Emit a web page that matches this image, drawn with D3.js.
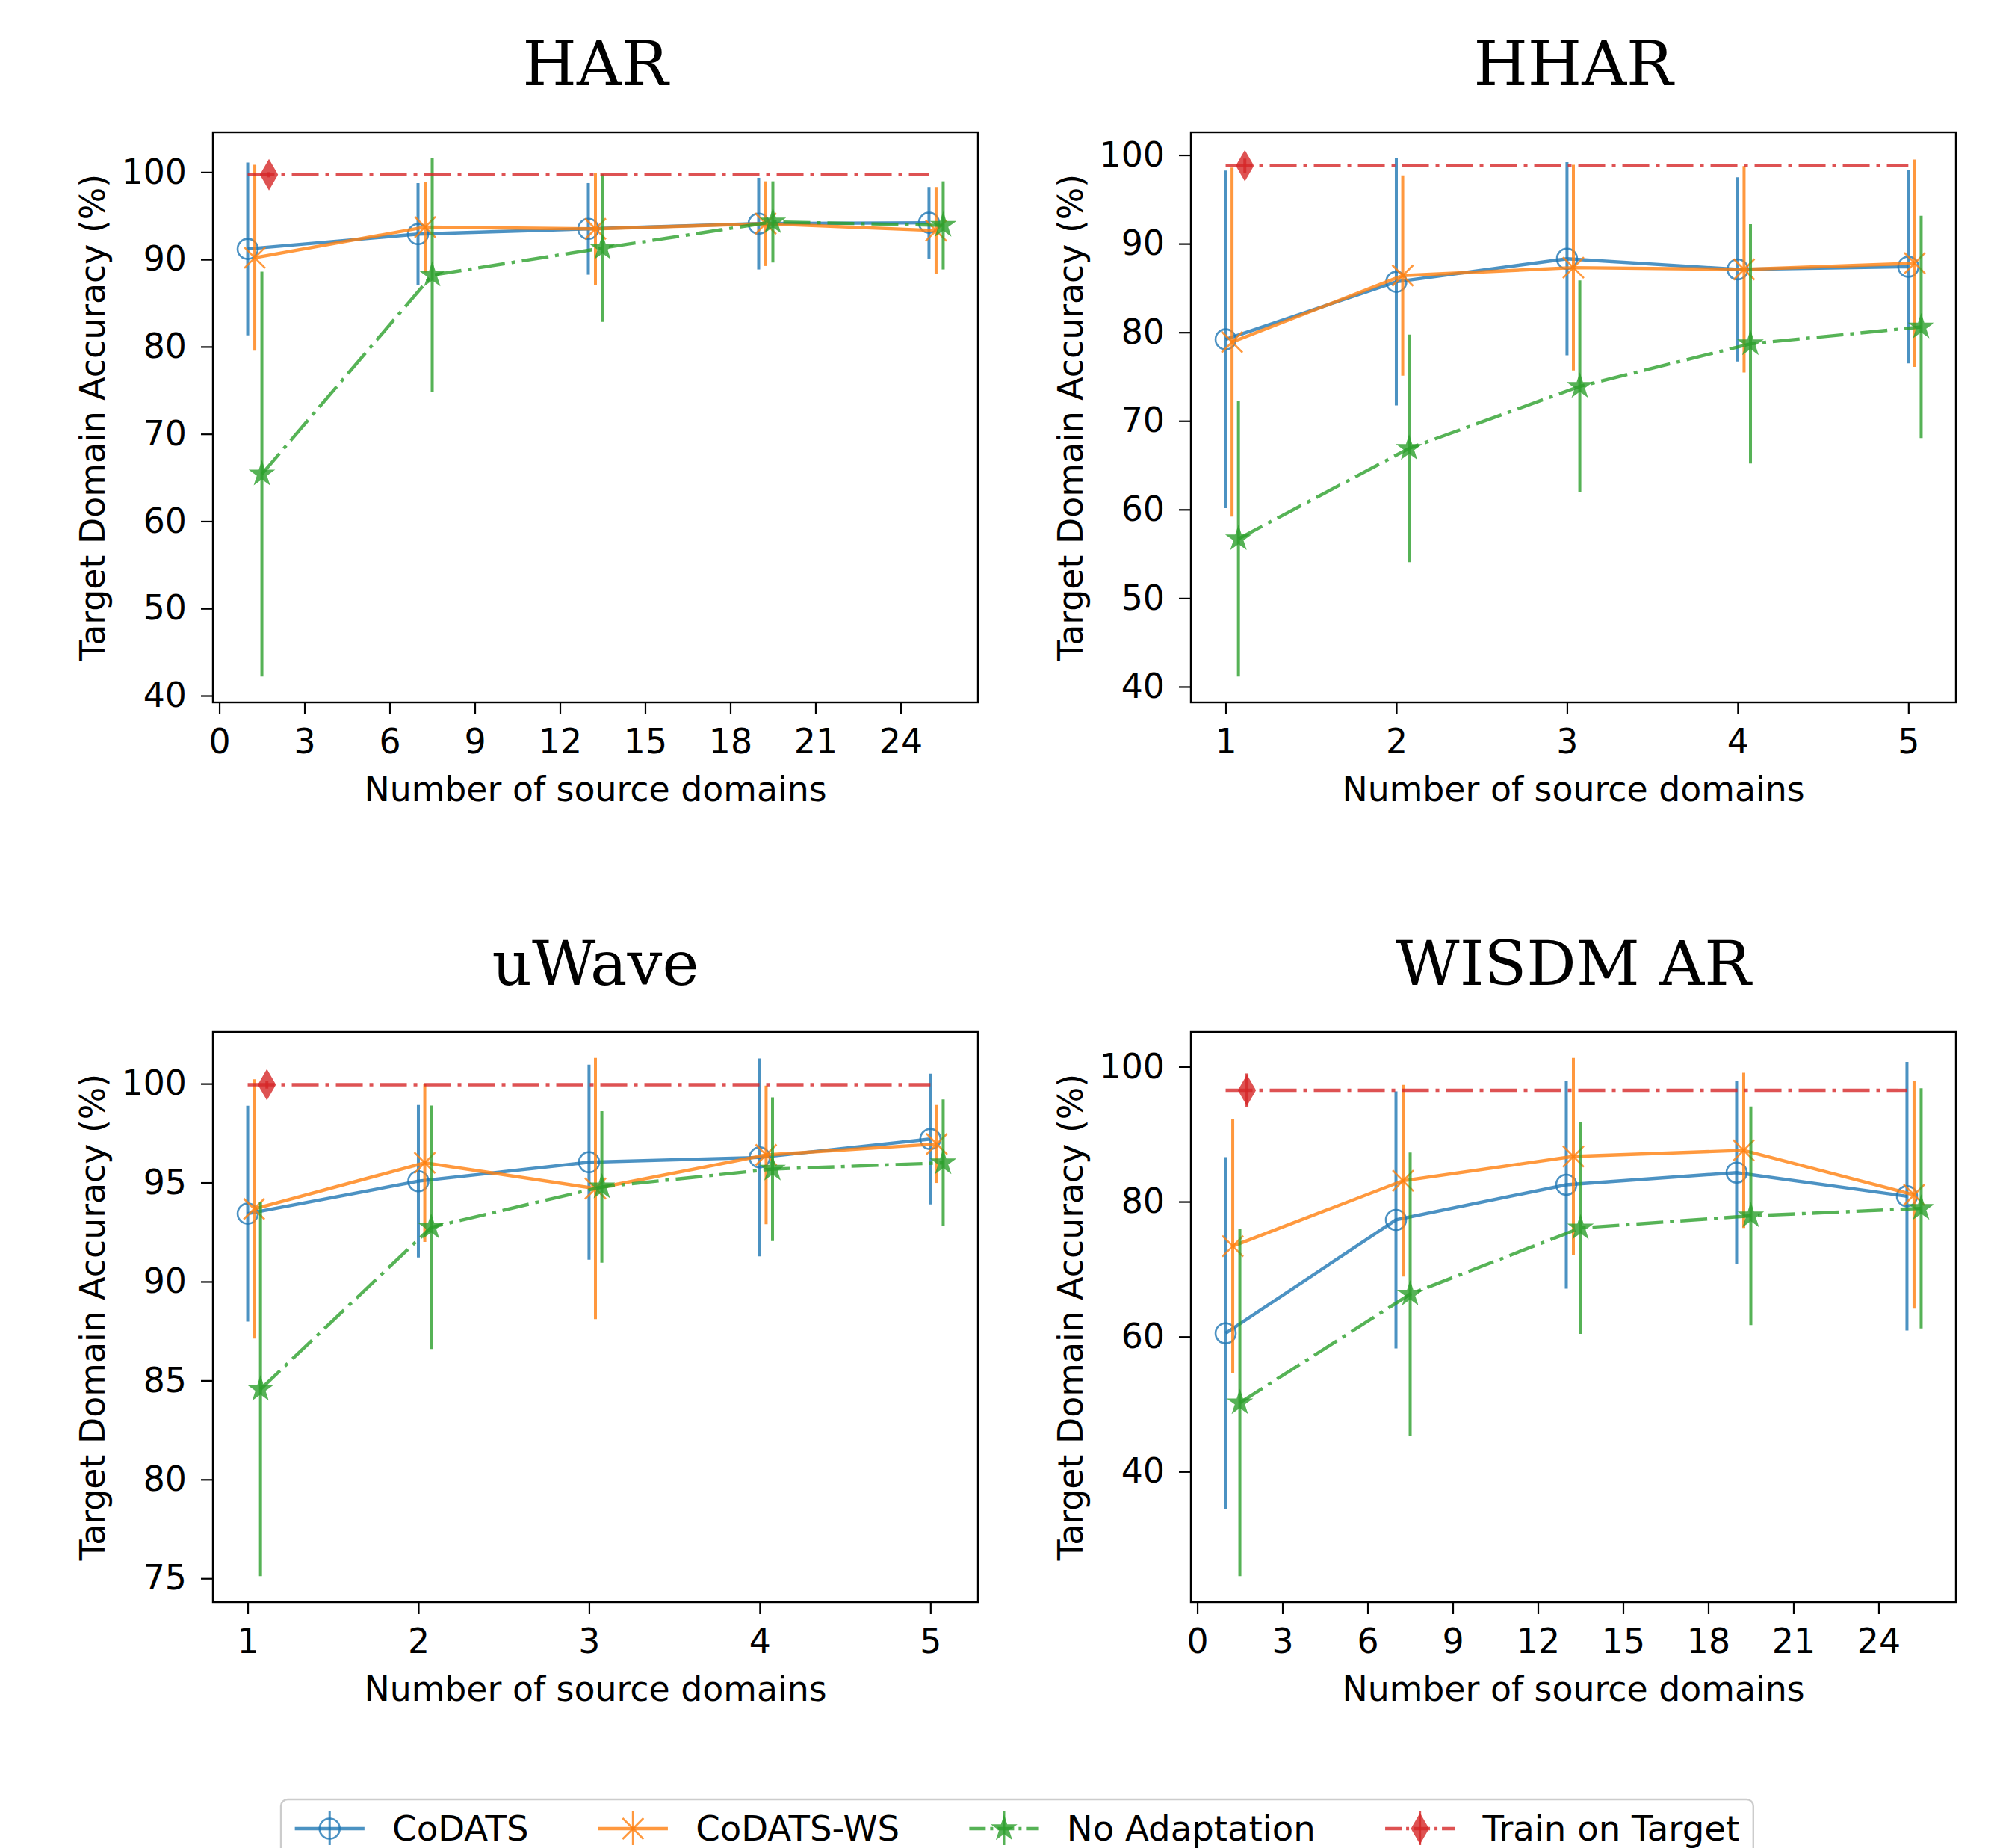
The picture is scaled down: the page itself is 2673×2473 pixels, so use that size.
<!DOCTYPE html>
<html>
<head>
<meta charset="utf-8">
<script src="https://cdn.jsdelivr.net/npm/d3@7"></script>
<style>
  html, body { margin: 0; padding: 0; background: #ffffff; }
  svg { display: block; }
</style>
</head>
<body>
<script>
// ---------------- DATA ----------------
const seriesNames = ["CoDATS", "CoDATS-WS", "No Adaptation", "Train on Target"];

const sourceDomainsMany = [1, 7, 13, 19, 25];
const sourceDomainsFew = [1, 2, 3, 4, 5];

const xTicksMany = [0, 3, 6, 9, 12, 15, 18, 21, 24];
const xTicksFew = [1, 2, 3, 4, 5];
const yTicksHAR = [40, 50, 60, 70, 80, 90, 100];
const yTicksHHAR = [40, 50, 60, 70, 80, 90, 100];
const yTicksUWave = [75, 80, 85, 90, 95, 100];
const yTicksWISDM = [40, 60, 80, 100];

// HAR
const harCodatsMean = [91.2, 92.9, 93.5, 94.1, 94.2];
const harCodatsStd = [9.9, 5.85, 5.25, 5.25, 4.1];
const harWsMean = [90.2, 93.7, 93.5, 94.1, 93.3];
const harWsStd = [10.65, 5.2, 6.4, 4.85, 5.0];
const harNoAdaptMean = [65.4, 88.2, 91.3, 94.3, 93.9];
const harNoAdaptStd = [23.2, 13.4, 8.45, 4.65, 5.05];
const harTargetMean = 99.7;
const harTargetStd = 0.3;

// HHAR
const hharCodatsMean = [79.2, 85.7, 88.3, 87.1, 87.4];
const hharCodatsStd = [19.05, 13.95, 10.9, 10.4, 10.9];
const hharWsMean = [78.9, 86.4, 87.3, 87.1, 87.8];
const hharWsStd = [19.7, 11.3, 11.6, 11.65, 11.7];
const hharNoAdaptMean = [56.7, 66.9, 73.9, 78.7, 80.6];
const hharNoAdaptStd = [15.55, 12.85, 11.95, 13.5, 12.55];
const hharTargetMean = 98.8;
const hharTargetStd = 0.8;

// uWave
const uwaveCodatsMean = [93.43, 95.07, 96.03, 96.27, 97.2];
const uwaveCodatsStd = [5.45, 3.85, 4.93, 5.0, 3.3];
const uwaveWsMean = [93.67, 96.0, 94.7, 96.4, 96.95];
const uwaveWsStd = [6.55, 4.0, 6.6, 3.5, 1.97];
const uwaveNoAdaptMean = [84.56, 92.74, 94.78, 95.68, 96.0];
const uwaveNoAdaptStd = [9.45, 6.15, 3.83, 3.63, 3.2];
const uwaveTargetMean = 99.95;
const uwaveTargetStd = 0.2;

// WISDM AR
const wisdmCodatsMean = [60.5, 77.3, 82.5, 84.3, 80.8];
const wisdmCodatsStd = [26.1, 19.05, 15.4, 13.6, 19.9];
const wisdmWsMean = [73.4, 83.1, 86.7, 87.6, 81.0];
const wisdmWsStd = [18.85, 14.2, 14.6, 11.5, 16.85];
const wisdmNoAdaptMean = [50.2, 66.3, 76.1, 77.9, 79.0];
const wisdmNoAdaptStd = [25.7, 21.0, 15.7, 16.2, 17.8];
const wisdmTargetMean = 96.5;
const wisdmTargetStd = 2.5;

// ---------------- STYLE / LAYOUT ----------------
const colors = ["#1f77b4", "#ff7f0e", "#2ca02c", "#d62728"];
const markers = ["circle", "x", "star", "thin_diamond"];
const dashes = [null, null, "36,9,5,9", "36,9,5,9"];
const seriesAlpha = 0.8;

const W = 2673, H = 2473;
const plotW = 1024, plotH = 763;
const colX = [285, 1594];
const rowY = [177, 1381];
const tickFont = 45.8;
const legendFont = 46.6;
const titleFont = 83;

const panels = [
  { title: "HAR", col: 0, row: 0, xs: sourceDomainsMany, dodge: 0.25, xTicks: xTicksMany, yTicks: yTicksHAR,
    means: [harCodatsMean, harWsMean, harNoAdaptMean], stds: [harCodatsStd, harWsStd, harNoAdaptStd],
    target: harTargetMean, targetStd: harTargetStd },
  { title: "HHAR", col: 1, row: 0, xs: sourceDomainsFew, dodge: 0.0375, xTicks: xTicksFew, yTicks: yTicksHHAR,
    means: [hharCodatsMean, hharWsMean, hharNoAdaptMean], stds: [hharCodatsStd, hharWsStd, hharNoAdaptStd],
    target: hharTargetMean, targetStd: hharTargetStd },
  { title: "uWave", col: 0, row: 1, xs: sourceDomainsFew, dodge: 0.0375, xTicks: xTicksFew, yTicks: yTicksUWave,
    means: [uwaveCodatsMean, uwaveWsMean, uwaveNoAdaptMean], stds: [uwaveCodatsStd, uwaveWsStd, uwaveNoAdaptStd],
    target: uwaveTargetMean, targetStd: uwaveTargetStd },
  { title: "WISDM AR", col: 1, row: 1, xs: sourceDomainsMany, dodge: 0.25, xTicks: xTicksMany, yTicks: yTicksWISDM,
    means: [wisdmCodatsMean, wisdmWsMean, wisdmNoAdaptMean], stds: [wisdmCodatsStd, wisdmWsStd, wisdmNoAdaptStd],
    target: wisdmTargetMean, targetStd: wisdmTargetStd }
];

// ---------------- DRAW ----------------
const svg = d3.select("body").append("svg")
  .attr("width", W).attr("height", H)
  .attr("viewBox", `0 0 ${W} ${H}`)
  .style("font-family", "'DejaVu Sans', sans-serif");

svg.append("rect").attr("width", W).attr("height", H).attr("fill", "#ffffff");

function starPath(R) {
  const r = R * 0.381966;
  const pts = [];
  for (let k = 0; k < 10; k++) {
    const a = -Math.PI / 2 + k * Math.PI / 5;
    const rr = k % 2 === 0 ? R : r;
    pts.push([rr * Math.cos(a), rr * Math.sin(a)]);
  }
  return "M" + pts.map(p => p[0].toFixed(2) + "," + p[1].toFixed(2)).join("L") + "Z";
}

function drawMarker(g, type, color, cx, cy) {
  const m = g.append("g").attr("transform", `translate(${cx},${cy})`).attr("opacity", seriesAlpha);
  if (type === "circle") {
    m.append("circle").attr("r", 13.5).attr("fill", "none").attr("stroke", color).attr("stroke-width", 2.6);
  } else if (type === "x") {
    m.append("path").attr("d", "M-14,-14L14,14M-14,14L14,-14")
      .attr("stroke", color).attr("stroke-width", 2.6).attr("fill", "none");
  } else if (type === "star") {
    m.append("path").attr("d", starPath(15.5)).attr("fill", color).attr("stroke", color)
      .attr("stroke-width", 2).attr("stroke-linejoin", "miter");
  } else if (type === "thin_diamond") {
    m.append("path").attr("d", "M0,-19L11,0L0,19L-11,0Z").attr("fill", color)
      .attr("stroke", color).attr("stroke-width", 2);
  }
}

function withMargin(lo, hi) {
  const r = hi - lo;
  return [lo - 0.05 * r, hi + 0.05 * r];
}

panels.forEach(p => {
  const x0 = colX[p.col], y0 = rowY[p.row];
  const g = svg.append("g").attr("transform", `translate(${x0},${y0})`);

  // data extents
  const n = p.xs.length;
  const allX = [p.xs[0], p.xs[n - 1], p.xs[0] + 3 * p.dodge];
  p.means.forEach((_, k) => p.xs.forEach(v => allX.push(v + k * p.dodge)));
  const allY = [p.target - p.targetStd, p.target + p.targetStd];
  p.means.forEach((arr, k) => arr.forEach((v, i) => {
    allY.push(v - p.stds[k][i]);
    allY.push(v + p.stds[k][i]);
  }));

  const x = d3.scaleLinear().domain(withMargin(d3.min(allX), d3.max(allX))).range([0, plotW]);
  const y = d3.scaleLinear().domain(withMargin(d3.min(allY), d3.max(allY))).range([plotH, 0]);

  // title
  svg.append("text")
    .attr("x", x0 + plotW / 2).attr("y", y0 - 63)
    .attr("text-anchor", "middle")
    .style("font-family", "'DejaVu Serif', serif")
    .style("font-size", titleFont + "px")
    .attr("fill", "#000")
    .text(p.title);

  // plotting area clip
  const clipId = "clip-" + p.col + "-" + p.row;
  g.append("clipPath").attr("id", clipId).append("rect").attr("width", plotW).attr("height", plotH);
  const plot = g.append("g").attr("clip-path", `url(#${clipId})`);

  const line = d3.line().x(d => x(d[0])).y(d => y(d[1]));

  // three series with error bars
  p.means.forEach((arr, k) => {
    const pts = arr.map((v, i) => [p.xs[i] + k * p.dodge, v, p.stds[k][i]]);
    const sg = plot.append("g");
    // error bars
    pts.forEach(d => {
      sg.append("line")
        .attr("x1", x(d[0])).attr("x2", x(d[0]))
        .attr("y1", y(d[1] - d[2])).attr("y2", y(d[1] + d[2]))
        .attr("stroke", colors[k]).attr("stroke-width", 4).attr("opacity", seriesAlpha);
    });
    // line
    const path = sg.append("path")
      .attr("d", line(pts))
      .attr("fill", "none")
      .attr("stroke", colors[k]).attr("stroke-width", 4.4)
      .attr("opacity", seriesAlpha);
    if (dashes[k]) path.attr("stroke-dasharray", dashes[k]);
    // markers
    pts.forEach(d => drawMarker(sg, markers[k], colors[k], x(d[0]), y(d[1])));
  });

  // Train on Target
  const tg = plot.append("g");
  tg.append("path")
    .attr("d", line([[p.xs[0], p.target], [p.xs[n - 1], p.target]]))
    .attr("fill", "none").attr("stroke", colors[3]).attr("stroke-width", 4.4)
    .attr("stroke-dasharray", dashes[3]).attr("opacity", seriesAlpha);
  const tx = p.xs[0] + 3 * p.dodge;
  tg.append("line")
    .attr("x1", x(tx)).attr("x2", x(tx))
    .attr("y1", y(p.target - p.targetStd)).attr("y2", y(p.target + p.targetStd))
    .attr("stroke", colors[3]).attr("stroke-width", 4).attr("opacity", seriesAlpha);
  drawMarker(tg, markers[3], colors[3], x(tx), y(p.target));

  // axes
  const xAxis = d3.axisBottom(x).tickValues(p.xTicks).tickSize(16).tickPadding(19).tickFormat(d3.format("d"));
  const yAxis = d3.axisLeft(y).tickValues(p.yTicks).tickSize(16).tickPadding(19).tickFormat(d3.format("d"));

  const gx = g.append("g").attr("transform", `translate(0,${plotH})`).call(xAxis);
  const gy = g.append("g").call(yAxis);
  [gx, gy].forEach(ax => {
    ax.select(".domain").remove();
    ax.selectAll(".tick line").attr("stroke", "#000").attr("stroke-width", 2.2);
    ax.selectAll(".tick text").attr("fill", "#000")
      .style("font-family", "'DejaVu Sans', sans-serif")
      .style("font-size", tickFont + "px");
  });

  // frame
  g.append("rect").attr("width", plotW).attr("height", plotH)
    .attr("fill", "none").attr("stroke", "#000").attr("stroke-width", 2.4);

  // axis labels
  g.append("text")
    .attr("x", plotW / 2).attr("y", plotH + 132)
    .attr("text-anchor", "middle")
    .style("font-size", tickFont + "px").attr("fill", "#000")
    .text("Number of source domains");

  g.append("text")
    .attr("transform", `translate(${140 - 285},${plotH / 2}) rotate(-90)`)
    .attr("text-anchor", "middle")
    .style("font-size", tickFont + "px").attr("fill", "#000")
    .text("Target Domain Accuracy (%)");
});

// ---------------- LEGEND ----------------
const legendLeft = 376, legendTop = 2408;
const em = legendFont;
const handleLen = 2 * em, handlePad = 0.8 * em, colSpacing = 2 * em, borderPad = 0.4 * em;
const legY = 2447;

const lg = svg.append("g");
const frame = lg.append("rect");
let cursor = legendLeft + borderPad;
seriesNames.forEach((name, k) => {
  const hx = cursor, cx = hx + handleLen / 2;
  const hl = lg.append("line")
    .attr("x1", hx).attr("x2", hx + handleLen).attr("y1", legY).attr("y2", legY)
    .attr("stroke", colors[k]).attr("stroke-width", 4.4).attr("opacity", seriesAlpha);
  if (dashes[k]) hl.attr("stroke-dasharray", "22,6,4,6");
  lg.append("line")
    .attr("x1", cx).attr("x2", cx).attr("y1", legY - 24).attr("y2", legY + 22)
    .attr("stroke", colors[k]).attr("stroke-width", 3).attr("opacity", seriesAlpha);
  drawMarker(lg, markers[k], colors[k], cx, legY);
  const t = lg.append("text")
    .attr("x", hx + handleLen + handlePad).attr("y", legY + 16)
    .style("font-size", legendFont + "px").attr("fill", "#000")
    .text(name);
  const tw = t.node().getComputedTextLength();
  cursor = hx + handleLen + handlePad + tw + colSpacing;
});
const legendRight = cursor - colSpacing + borderPad;
frame.attr("x", legendLeft).attr("y", legendTop)
  .attr("width", legendRight - legendLeft).attr("height", 100)
  .attr("rx", 9).attr("ry", 9)
  .attr("fill", "#ffffff").attr("fill-opacity", 0.8)
  .attr("stroke", "#cccccc").attr("stroke-width", 2.4);
</script>
</body>
</html>
